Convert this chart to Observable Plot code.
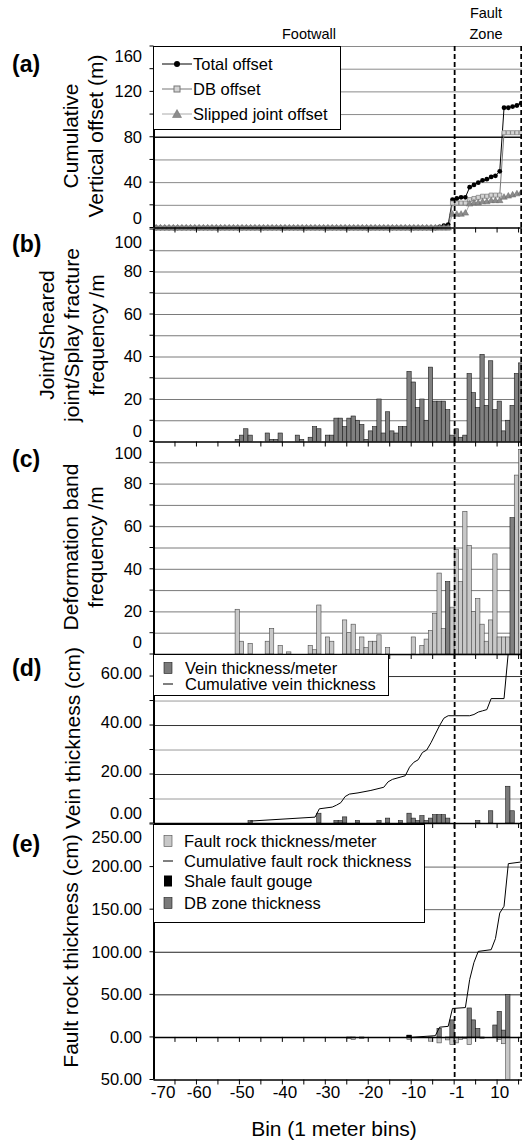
<!DOCTYPE html>
<html><head><meta charset="utf-8">
<script src="https://cdn.jsdelivr.net/npm/d3@7"></script>
<script src="https://cdn.jsdelivr.net/npm/@observablehq/plot@0.6"></script>
<style>
body{margin:0;background:#fff}
#root{position:relative;width:522px;height:1140px;overflow:hidden;font-family:"Liberation Sans",Arial,sans-serif;color:#000;background:#fff}
.txt{position:absolute;white-space:nowrap;transform:translate(-50%,-50%)}
.ytitle{position:absolute;transform:translate(-50%,-50%) rotate(-90deg);white-space:nowrap;text-align:center;font-size:21px;line-height:25px}
.plabel{position:absolute;font-weight:bold;font-size:23px;left:12px;transform:translateY(-50%)}
.legend{position:absolute;background:#fff;border:1.5px solid #000;box-sizing:border-box}
.legend .row{position:absolute;font-size:16.5px;white-space:nowrap;transform:translateY(-50%);line-height:18px}
.legend svg{position:absolute}
</style></head><body><div id="root"></div><script>
// ---------- DATA ----------
// bin slots: -70..-1 footwall, 0..15 fault zone (slot 0 is labelled "-1" on the axis)
const bins = d3.range(-70, 16);
const xTickMarks = [-65,-60,-55,-50,-45,-40,-35,-30,-25,-20,-15,-10,-5,0,5,10,15];
const xLabelBins = [-60,-50,-40,-30,-20,-10,0,10];
const xLabelText = ["-60","-50","-40","-30","-20","-10","-1","10"];
const xFirstLabelBin = [-70];
const xFirstLabelText = ["-70"];
const faultZoneBounds = [0, 15.5];

// (a) cumulative vertical offset (m), one value per bin slot
const totalOffset = [
0,0,0,0,0,0,0,0,0,0, 0,0,0,0,0,0,0,0,0,0, 0,0,0,0,0,0,0,0,0,0,
0,0,0,0,0,0,0,0,0,0, 0,0,0,0,0,0,0,0,0,0, 0,0,0,0,0,0,0,0,0,0,
0,0,0,0,0,0,
1,2,3,25,26,27,27,36,38,40,42,43,45,46,50,106,106,107,108,110];
const dbOffset = [
0,0,0,0,0,0,0,0,0,0, 0,0,0,0,0,0,0,0,0,0, 0,0,0,0,0,0,0,0,0,0,
0,0,0,0,0,0,0,0,0,0, 0,0,0,0,0,0,0,0,0,0, 0,0,0,0,0,0,0,0,0,0,
0,0,0,0,0,0,0,0,0,
22,22,22,22,25,26,27,28,28,29,29,29,84,84,84,84,84];
const sjOffset = [
0,0,0,0,0,0,0,0,0,0, 0,0,0,0,0,0,0,0,0,0, 0,0,0,0,0,0,0,0,0,0,
0,0,0,0,0,0,0,0,0,0, 0,0,0,0,0,0,0,0,0,0, 0,0,0,0,0,0,0,0,0,0,
0,0,0,0,0,0,0,0,0,
12,12,12,13,21,22,22,23,23,24,24,24,27,28,29,30,31];

// (b) joint / sheared joint / splay fracture frequency
const jointBins = [-51,-50,-49,-48,-44,-43,-42,-41,-37,-36,-34,-33,-32,-30,-29,-28,-27,-26,-25,-24,-23,-22,-21,-20,-19,-18,-17,-16,-15,-14,-13,-12,-11,-10,-9,-8,-7,-6,-5,-4,-3,-2,-1,0,1,2,3,4,5,6,7,8,9,10,11,12,13,14,15];
const jointFreq = [1,3,6,3,4,1,1,4,3,1,2,7,6,3,3,11,11,7,11,12,10,8,1,5,7,20,4,14,5,4,7,7,33,28,16,20,10,35,19,19,19,15,3,6,2,3,32,23,16,41,17,38,15,19,5,10,17,32,37];

// (c) deformation band frequency
const dbBins = [-51,-50,-48,-44,-43,-41,-39,-34,-33,-32,-30,-29,-26,-25,-24,-23,-22,-21,-20,-19,-18,-16,-10,-8,-7,-6,-5,-4,-3,-1,0,1,2,3,4,5,6,7,8,9,10,11,12,14,15];
const dbFreq = [21,6,5,6,12,4,1,4,2,23,8,6,16,10,14,2,8,3,6,6,9,3,8,4,7,11,19,38,12,22,49,34,67,51,20,26,14,6,16,47,8,8,8,84,96];
const dbDarkBins = [-2,13];
const dbDarkFreq = [34,64];

// (d) vein thickness (cm)
const veinBins = [-48,-32,-28,-27,-26,-23,-18,-16,-13,-11,-10,-9,-8,-7,-6,-5,-4,-3,-2,5,8,12,13];
const veinThick = [1,4,1,1,2.5,1,1,2,1,4,2,1,3,1,2,3.4,3.4,3.4,2,1,5,15,5];
const cumVeinBins = [-48,-33,-32,-29,-28,-27,-26,-25,-23,-20,-17,-16,-15,-12,-11,-10,-9,-8,-7,-6,-5,-4,-3,-2,3,4,5,6,7,8,11,12,13,15];
const cumVein = [1,2.6,6,6.7,7.5,8.5,11,12,12.5,13.5,14.8,17,18,19.5,23,25,26,29,30,33,36.5,40,43,44,44,44.5,45.5,46,46.5,51,51,70,75,75];

// (e) fault rock thickness (cm)
const faultRockBins = [-25,-24,-22,-11,-6,-4,-2,-1,0,1,2,3,6,10,11,12];
const faultRock = [-2,-3,-2,-3,-5,-7,-3.5,-9,-7,-3,-2,-9,-2,-3,-8,-50];
const gougeBins = [-11];
const gouge = [2];
const dbZoneBins = [-11,-4,-1,3,4,5,9,10,11,12];
const dbZone = [2,10,20,34,20,10,14,30,8,50];
const cumRockBins = [-11,-5,-4,-2,-1,2,3,4,5,8,9,10,11,12,15];
const cumRock = [0,2,12,13,34,35,68,88,101,103,116,146,154,204,206];

// ---------- HELPERS ----------
const root = document.getElementById("root");
const rows = (b, v) => b.map((k, i) => ({k, v: v[i]}));
const FONT = '"Liberation Sans", Arial, sans-serif';

const xTicksAt = (yVal, len) => (index, {x, y}) => {
  const g = d3.create("svg:g").attr("stroke", "#000").attr("stroke-width", 1);
  const py = y(yVal);
  for (const t of xTickMarks) g.append("line").attr("x1", x(t)).attr("x2", x(t)).attr("y1", py).attr("y2", py + len);
  return g.node();
};
const yTicksAt = (vals) => (index, {x, y}) => {
  const g = d3.create("svg:g").attr("stroke", "#000").attr("stroke-width", 1);
  const px = x(-70);
  for (const v of vals) g.append("line").attr("x1", px - 4).attr("x2", px).attr("y1", y(v)).attr("y2", y(v));
  return g.node();
};
const yLabels = (vals, fmt, dy) => Plot.text(vals, {y: d => d, text: fmt, frameAnchor: "left", textAnchor: "end", dx: -12, dy, fontSize: 16.5, fill: "#000"});

function panel(top, bottom, yDomain, marks) {
  const svg = Plot.plot({
    width: 522, height: bottom - top + 40,
    marginTop: 20, marginBottom: 20, marginLeft: 153.5, marginRight: 0,
    x: {domain: [-70, 15.8], axis: null},
    y: {domain: yDomain, axis: null},
    style: {background: "transparent", overflow: "visible", fontFamily: FONT, color: "#000"},
    marks
  });
  svg.style.position = "absolute";
  svg.style.left = "0px";
  svg.style.top = (top - 20) + "px";
  root.append(svg);
}
const common = () => [
  Plot.ruleX([-70], {stroke: "#000", strokeWidth: 2}),
  Plot.ruleX(faultZoneBounds, {stroke: "#000", strokeWidth: 1.8, strokeDasharray: "5,3"})
];
const fmt0 = d => d3.format("d")(d);
const fmt2 = d => d3.format(".2f")(Math.abs(d));

// ---------- PANEL (a) ----------
const aRows = (vals) => bins.map((k, i) => ({k, v: vals[i]}));
panel(45.5, 227, [0, 160], [
  Plot.ruleY([20,40,60,100,120,140,160], {stroke: "#8a8a8a", strokeWidth: 1}),
  Plot.ruleY([80], {stroke: "#111", strokeWidth: 1.6}),
  Plot.line(aRows(totalOffset), {x: d => d.k + 0.5, y: "v", stroke: "#000", strokeWidth: 1}),
  Plot.line(aRows(dbOffset), {x: d => d.k + 0.5, y: "v", stroke: "#777", strokeWidth: 1}),
  Plot.line(aRows(sjOffset), {x: d => d.k + 0.5, y: "v", stroke: "#aaa", strokeWidth: 1}),
  Plot.dot(aRows(totalOffset), {x: d => d.k + 0.5, y: "v", symbol: "circle", r: 2.4, fill: "#000", stroke: "none"}),
  Plot.dot(aRows(dbOffset), {x: d => d.k + 0.5, y: "v", symbol: "square", r: 2.3, fill: "#d4d4d4", stroke: "#777", strokeWidth: 0.7}),
  Plot.dot(aRows(sjOffset), {x: d => d.k + 0.5, y: "v", symbol: "triangle", r: 2.4, fill: "#8c8c8c", stroke: "#666", strokeWidth: 0.5}),
  Plot.ruleY([0], {stroke: "#000", strokeWidth: 1.5}),
  xTicksAt(0, 5),
  yTicksAt([0,20,40,60,80,100,120,140,160]),
  ...common(),
  yLabels([40,80,120], fmt0, 0),
  yLabels([160], fmt0, 10),
  yLabels([0], fmt0, -9)
]);

// ---------- PANEL (b) ----------
panel(228.5, 441, [0, 100], [
  Plot.ruleY([10,20,30,40,50,60,70,80,90], {stroke: "#7a7a7a", strokeWidth: 1}),
  Plot.rect(rows(jointBins, jointFreq), {x1: "k", x2: d => d.k + 1, y1: 0, y2: "v", fill: "#808080", stroke: "#1a1a1a", strokeWidth: 0.6, clip: true}),
  Plot.ruleY([0], {stroke: "#000", strokeWidth: 1.5}),
  xTicksAt(0, 5),
  yTicksAt([0,10,20,30,40,50,60,70,80,90,100]),
  ...common(),
  yLabels([20,40,60,80], fmt0, 0),
  yLabels([100], fmt0, 13),
  yLabels([0], fmt0, -10)
]);

// ---------- PANEL (c) ----------
panel(441, 654, [0, 100], [
  Plot.ruleY([10,20,30,40,50,60,70,80,90], {stroke: "#7a7a7a", strokeWidth: 1}),
  Plot.rect(rows(dbBins, dbFreq), {x1: "k", x2: d => d.k + 1, y1: 0, y2: "v", fill: "#c8c8c8", stroke: "#4a4a4a", strokeWidth: 0.6, clip: true}),
  Plot.rect(rows(dbDarkBins, dbDarkFreq), {x1: "k", x2: d => d.k + 1, y1: 0, y2: "v", fill: "#808080", stroke: "#1a1a1a", strokeWidth: 0.6, clip: true}),
  Plot.ruleY([0], {stroke: "#000", strokeWidth: 1.5}),
  xTicksAt(0, 5),
  yTicksAt([0,10,20,30,40,50,60,70,80,90,100]),
  ...common(),
  yLabels([20,40,60,80], fmt0, 0),
  yLabels([100], fmt0, 12),
  yLabels([0], fmt0, -12)
]);

// ---------- PANEL (d) ----------
panel(654, 823, [0, 69], [
  Plot.ruleY([10,30,50], {stroke: "#9a9a9a", strokeWidth: 1}),
  Plot.ruleY([20,40,60], {stroke: "#333", strokeWidth: 1}),
  Plot.rect(rows(veinBins, veinThick), {x1: "k", x2: d => d.k + 1, y1: 0, y2: "v", fill: "#7a7a7a", stroke: "#1a1a1a", strokeWidth: 0.6, clip: true}),
  Plot.line(rows(cumVeinBins, cumVein), {x: d => d.k + 0.5, y: "v", stroke: "#000", strokeWidth: 1, clip: true}),
  Plot.ruleY([0], {stroke: "#000", strokeWidth: 1.5}),
  xTicksAt(0, 5),
  yTicksAt([0,10,20,30,40,50,60]),
  ...common(),
  yLabels([20,40,60], fmt2, -3),
  yLabels([0], fmt2, -10)
]);

// ---------- PANEL (e) ----------
panel(823.5, 1079, [-50, 250], [
  Plot.ruleY([150,200], {stroke: "#666", strokeWidth: 1}),
  Plot.ruleY([50,100], {stroke: "#222", strokeWidth: 1}),
  Plot.rect(rows(faultRockBins, faultRock), {x1: "k", x2: d => d.k + 1, y1: 0, y2: "v", fill: "#c8c8c8", stroke: "#4a4a4a", strokeWidth: 0.6, clip: true}),
  Plot.rect(rows(dbZoneBins, dbZone), {x1: "k", x2: d => d.k + 1, y1: 0, y2: "v", fill: "#7a7a7a", stroke: "#1a1a1a", strokeWidth: 0.6, clip: true}),
  Plot.rect(rows(gougeBins, gouge), {x1: "k", x2: d => d.k + 1, y1: 0, y2: "v", fill: "#000", stroke: "#000", strokeWidth: 0.6, clip: true}),
  Plot.line(rows(cumRockBins, cumRock), {x: d => d.k + 0.5, y: "v", stroke: "#000", strokeWidth: 1, clip: true}),
  Plot.ruleY([0], {stroke: "#000", strokeWidth: 1.5}),
  Plot.ruleY([-50], {stroke: "#000", strokeWidth: 1.5}),
  xTicksAt(0, 5),
  xTicksAt(-50, 5),
  yTicksAt([-50,0,50,100,150,200,250]),
  ...common(),
  yLabels([-50,0,50,100,150,200], fmt2, 0),
  yLabels([250], fmt2, 13),
  Plot.text(xLabelBins.map((k, i) => ({k, t: xLabelText[i]})), {x: d => d.k + 0.5, text: "t", frameAnchor: "bottom", dy: 18, fontSize: 17, fill: "#000"}),
  Plot.text(xFirstLabelBin.map((k, i) => ({k, t: xFirstLabelText[i]})), {x: d => d.k + 0.5, text: "t", frameAnchor: "bottom", dy: 18, dx: 7, fontSize: 17, fill: "#000"})
]);

// ---------- HTML TEXT ----------
function addText(cls, html, styles) {
  const el = document.createElement("div");
  el.className = cls;
  el.innerHTML = html;
  Object.assign(el.style, styles);
  root.append(el);
  return el;
}
addText("txt", "Footwall", {left: "309px", top: "34px", fontSize: "14.5px"});
addText("txt", "Fault", {left: "486px", top: "13px", fontSize: "14.5px"});
addText("txt", "Zone", {left: "486px", top: "34px", fontSize: "14.5px"});

const panelLetters = ["(a)", "(b)", "(c)", "(d)", "(e)"];
const panelLetterY = [64, 244, 459, 668, 844];
panelLetters.forEach((t, i) => addText("plabel", t, {top: panelLetterY[i] + "px"}));

const yTitles = ["Cumulative<br>Vertical offset (m)", "Joint/Sheared<br>joint/Splay fracture<br>frequency /m", "Deformation band<br>frequency /m", "Vein thickness (cm)", "Fault rock thickness (cm)"];
const yTitleX = [83, 71, 83, 72, 70];
const yTitleY = [136, 335, 547, 738, 951];
yTitles.forEach((t, i) => addText("ytitle", t, {left: yTitleX[i] + "px", top: yTitleY[i] + "px"}));

addText("txt", "Bin (1 meter bins)", {left: "334px", top: "1129px", fontSize: "21px"});

// ---------- LEGENDS ----------
function legend(box, items) {
  const el = document.createElement("div");
  el.className = "legend";
  Object.assign(el.style, {left: box[0] + "px", top: box[1] + "px", width: box[2] + "px", height: box[3] + "px"});
  for (const it of items) {
    const sw = d3.create("svg").attr("width", it.w).attr("height", 14)
      .style("left", it.sx + "px").style("top", (it.y - 7) + "px");
    it.draw(sw);
    el.append(sw.node());
    const r = document.createElement("div");
    r.className = "row";
    r.textContent = it.label;
    r.style.left = it.tx + "px";
    r.style.top = it.y + "px";
    el.append(r);
  }
  root.append(el);
}
const legendA = ["Total offset", "DB offset", "Slipped joint offset"];
legend([153, 45.5, 188, 84], [
  {label: legendA[0], y: 17, sx: 8, w: 30, tx: 39, draw: s => {
    s.append("line").attr("x1", 0).attr("x2", 30).attr("y1", 7).attr("y2", 7).attr("stroke", "#000");
    s.append("circle").attr("cx", 15).attr("cy", 7).attr("r", 3).attr("fill", "#000"); }},
  {label: legendA[1], y: 42, sx: 8, w: 30, tx: 39, draw: s => {
    s.append("line").attr("x1", 0).attr("x2", 30).attr("y1", 7).attr("y2", 7).attr("stroke", "#777");
    s.append("rect").attr("x", 12).attr("y", 4).attr("width", 6).attr("height", 6).attr("fill", "#d4d4d4").attr("stroke", "#777"); }},
  {label: legendA[2], y: 67, sx: 8, w: 30, tx: 39, draw: s => {
    s.append("line").attr("x1", 0).attr("x2", 30).attr("y1", 7).attr("y2", 7).attr("stroke", "#aaa");
    s.append("path").attr("d", "M15,2.5L19.5,10.5L10.5,10.5Z").attr("fill", "#8c8c8c").attr("stroke", "#666").attr("stroke-width", 0.5); }}
]);
const legendD = ["Vein thickness/meter", "Cumulative vein thickness"];
legend([153, 654, 236, 42], [
  {label: legendD[0], y: 13, sx: 9, w: 12, tx: 31, draw: s => {
    s.append("rect").attr("x", 1).attr("y", 1.5).attr("width", 8).attr("height", 11).attr("fill", "#7a7a7a").attr("stroke", "#1a1a1a").attr("stroke-width", 0.6); }},
  {label: legendD[1], y: 29, sx: 9, w: 12, tx: 31, draw: s => {
    s.append("line").attr("x1", 0).attr("x2", 10).attr("y1", 7).attr("y2", 7).attr("stroke", "#000"); }}
]);
const legendE = ["Fault rock thickness/meter", "Cumulative fault rock thickness", "Shale fault gouge", "DB zone thickness"];
legend([153, 823.5, 272, 99], [
  {label: legendE[0], y: 16, sx: 9, w: 12, tx: 30, draw: s => {
    s.append("rect").attr("x", 1).attr("y", 1.5).attr("width", 8).attr("height", 11).attr("fill", "#c8c8c8").attr("stroke", "#4a4a4a").attr("stroke-width", 0.6); }},
  {label: legendE[1], y: 36, sx: 9, w: 12, tx: 30, draw: s => {
    s.append("line").attr("x1", 0).attr("x2", 10).attr("y1", 7).attr("y2", 7).attr("stroke", "#000"); }},
  {label: legendE[2], y: 56, sx: 9, w: 12, tx: 30, draw: s => {
    s.append("rect").attr("x", 1).attr("y", 1.5).attr("width", 8).attr("height", 11).attr("fill", "#000"); }},
  {label: legendE[3], y: 78, sx: 9, w: 12, tx: 30, draw: s => {
    s.append("rect").attr("x", 1).attr("y", 1.5).attr("width", 8).attr("height", 11).attr("fill", "#7a7a7a").attr("stroke", "#1a1a1a").attr("stroke-width", 0.6); }}
]);
</script></body></html>
